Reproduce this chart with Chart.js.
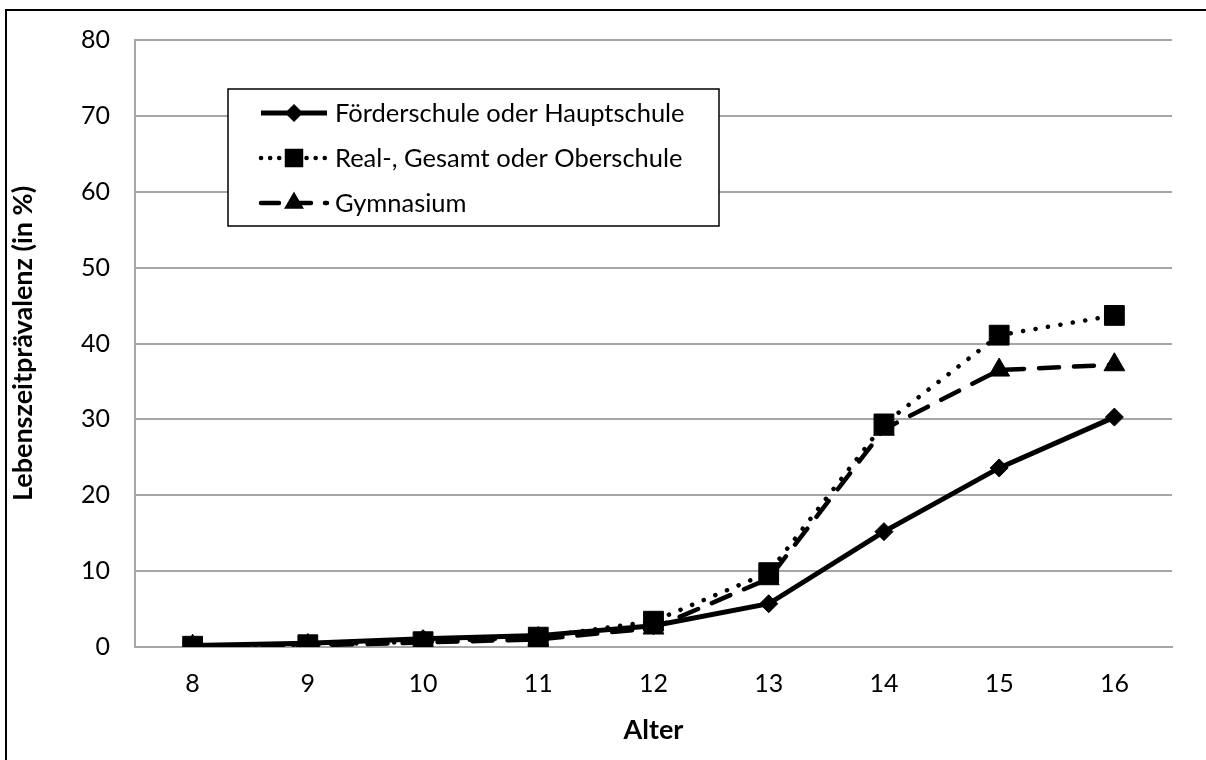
<!DOCTYPE html>
<html>
<head>
<meta charset="utf-8">
<script src="https://cdn.jsdelivr.net/npm/chart.js@4.4.0/dist/chart.umd.min.js"></script>
<style>
  html, body { margin: 0; padding: 0; background: #fff; }
  #wrap { width: 1206px; height: 760px; }
</style>
</head>
<body>
<div id="wrap"><canvas id="c" width="1206" height="760"></canvas></div>
<script>
// ---- data ----
const ages = ['8', '9', '10', '11', '12', '13', '14', '15', '16'];
const foerderHaupt = [0.2, 0.5, 1.1, 1.5, 2.8, 5.7, 15.2, 23.6, 30.3];
const realGesamtOber = [0.1, 0.3, 0.7, 1.3, 3.4, 9.8, 29.4, 41.1, 43.7];
const gymnasium = [0.1, 0.2, 0.6, 1.0, 2.5, 9.0, 28.7, 36.5, 37.2];
const seriesNames = ['Förderschule oder Hauptschule', 'Real-, Gesamt oder Oberschule', 'Gymnasium'];
const yTicks = [0, 10, 20, 30, 40, 50, 60, 70, 80];
const xTitle = 'Alter';
const yTitle = 'Lebenszeitprävalenz (in %)';

const FONT = 'Lato, "Open Sans", sans-serif';
const GRID = '#a6a6a6';

const background = {
  id: 'background',
  beforeDraw(chart) {
    const ctx = chart.ctx;
    ctx.save();
    ctx.fillStyle = '#fff';
    ctx.fillRect(0, 0, chart.width, chart.height);
    ctx.strokeStyle = '#000';
    ctx.lineWidth = 2;
    ctx.beginPath();
    ctx.moveTo(6, chart.height + 5);
    ctx.lineTo(6, 10);
    ctx.lineTo(chart.width + 5, 10);
    ctx.stroke();
    ctx.restore();
  }
};

const boxLegend = {
  id: 'boxLegend',
  afterDraw(chart) {
    const ctx = chart.ctx;
    const x0 = 228, y0 = 89, w = 491, h = 137;
    ctx.save();
    ctx.fillStyle = '#fff';
    ctx.fillRect(x0, y0, w, h);
    ctx.strokeStyle = '#000';
    ctx.lineWidth = 1.5;
    ctx.strokeRect(x0, y0, w, h);
    const rows = [113, 158, 203];
    chart.data.datasets.forEach((ds, i) => {
      const y = rows[i];
      ctx.save();
      ctx.strokeStyle = ds.borderColor;
      ctx.lineWidth = ds.borderWidth;
      ctx.lineCap = ds.borderCapStyle || 'butt';
      ctx.setLineDash(ds.legendDash || []);
      ctx.beginPath();
      ctx.moveTo(261, y);
      ctx.lineTo(327, y);
      ctx.stroke();
      ctx.restore();
      ctx.fillStyle = '#000';
      ctx.strokeStyle = '#000';
      ctx.setLineDash([]);
      Chart.helpers.drawPoint(ctx, {
        pointStyle: ds.pointStyle,
        radius: ds.legendRadius,
        borderWidth: 1,
        rotation: 0
      }, 294, y);
      ctx.fillStyle = '#000';
      ctx.font = '25.5px ' + FONT;
      ctx.textBaseline = 'middle';
      ctx.textAlign = 'left';
      ctx.fillText(ds.label, 335, y + 1);
    });
    ctx.restore();
  }
};

const ctx = document.getElementById('c').getContext('2d');
new Chart(ctx, {
  type: 'line',
  data: {
    labels: ages,
    datasets: [
      {
        label: seriesNames[0],
        data: foerderHaupt,
        borderColor: '#000',
        backgroundColor: '#000',
        borderWidth: 5,
        pointStyle: 'rectRot',
        pointRadius: 9,
        legendRadius: 8,
        pointBorderWidth: 1,
        order: 2
      },
      {
        label: seriesNames[1],
        data: realGesamtOber,
        borderColor: '#000',
        backgroundColor: '#000',
        borderWidth: 4.5,
        borderCapStyle: 'round',
        borderDash: [0.1, 12.5],
        legendDash: [0.1, 9],
        pointStyle: 'rect',
        pointRadius: 14,
        legendRadius: 12,
        pointBorderWidth: 1,
        order: 0
      },
      {
        label: seriesNames[2],
        data: gymnasium,
        borderColor: '#000',
        backgroundColor: '#000',
        borderWidth: 4.5,
        borderCapStyle: 'round',
        borderDash: [20, 15],
        legendDash: [18, 14],
        pointStyle: 'triangle',
        pointRadius: 12,
        legendRadius: 10,
        pointBorderWidth: 1,
        order: 1
      }
    ]
  },
  options: {
    responsive: false,
    animation: false,
    devicePixelRatio: 1,
    layout: { padding: { top: 38, right: 34, left: 0, bottom: 0 } },
    plugins: {
      legend: { display: false },
      tooltip: { enabled: false }
    },
    elements: { line: { tension: 0 } },
    scales: {
      x: {
        offset: true,
        grid: { display: false, drawTicks: false, offset: true },
        border: { display: true, color: GRID, width: 2 },
        ticks: { color: '#000', font: { family: FONT, size: 25 }, padding: 22, maxRotation: 0 },
        title: { display: true, text: xTitle, color: '#000', font: { family: FONT, size: 27, weight: 'bold' }, padding: { top: 0, bottom: 14 } },
        afterFit(scale) { scale.height = 113; }
      },
      y: {
        min: 0, max: 80,
        afterBuildTicks(scale) { scale.ticks = yTicks.map(v => ({ value: v })); },
        grid: { color: GRID, lineWidth: 2, drawTicks: false },
        border: { display: true, color: GRID, width: 2 },
        ticks: { color: '#000', font: { family: FONT, size: 25 }, padding: 25 },
        title: { display: true, text: yTitle, color: '#000', font: { family: FONT, size: 27, weight: 'bold' }, padding: { top: 7, bottom: 0 } },
        afterFit(scale) { scale.width = 135; }
      }
    }
  },
  plugins: [background, boxLegend]
});
</script>
</body>
</html>
